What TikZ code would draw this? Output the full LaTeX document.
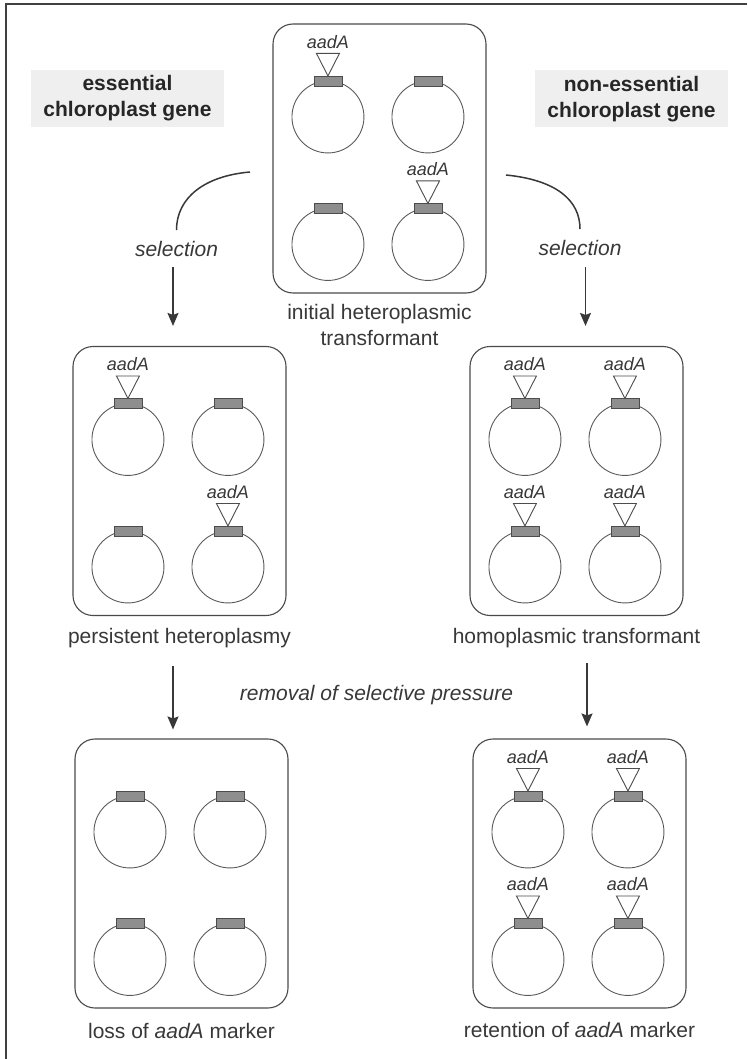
\documentclass[tikz,border=0pt]{standalone}
\usepackage{fontspec}
\setmainfont{Liberation Sans}
\usetikzlibrary{arrows.meta}
\definecolor{ink}{HTML}{383838}
\definecolor{linec}{HTML}{4A4A4A}
\definecolor{circc}{HTML}{5A5A5A}
\definecolor{genefill}{HTML}{8E8E8E}
\definecolor{hdrbg}{HTML}{EFEFEF}
\tikzset{
  box/.style={draw=linec, line width=1.1pt, rounded corners=20pt, minimum width=213pt, minimum height=269pt, inner sep=0pt},
  lab/.style={text=ink, font=\fontsize{21}{26}\selectfont, align=center, inner sep=0pt},
  hdr/.style={fill=hdrbg, text=black!85, font=\fontsize{21}{26}\selectfont\bfseries, align=center, minimum width=193pt, minimum height=57pt, inner sep=0pt},
  sel/.style={text=ink, font=\fontsize{21}{26}\selectfont\itshape, inner sep=11pt},
  aad/.style={text=ink, font=\fontsize{18}{20}\selectfont\itshape, inner sep=0pt},
  circ/.style={draw=circc, line width=0.9pt},
  gene/.style={draw=black!70, fill=genefill, line width=0.8pt},
  tri/.style={draw=black!70, fill=white, line width=0.9pt},
  conn/.style={draw=ink, line width=1.5pt},
  arr/.style={draw=ink, line width=1.5pt, -{Stealth[length=13pt,width=11pt,inset=2pt]}},
  frame/.style={draw=black!75, line width=2pt},
  plas/.pic={
    \draw[circ] (0,36) circle[radius=36];
    \draw[gene] (-14,-5) rectangle (14,5);
  },
  plasA/.pic={
    \draw[circ] (0,36) circle[radius=36];
    \draw[gene] (-14,-5) rectangle (14,5);
    \draw[tri] (-11.5,-27.5) -- (11.5,-27.5) -- (0,-5) -- cycle;
    \node[aad] at (0,-39) {aadA};
  }
}
\newcommand\placefour[5]{%
  \pic at ([shift={(55.5,57.5)}]#1.north west) {#2};
  \pic at ([shift={(155.5,57.5)}]#1.north west) {#3};
  \pic at ([shift={(55.5,185)}]#1.north west) {#4};
  \pic at ([shift={(155.5,185)}]#1.north west) {#5};
}
\begin{document}
\begin{tikzpicture}[x=1pt,y=-1pt]
\useasboundingbox (0,0) rectangle (747,1059);
% frame
\coordinate (f1) at (6,1059);
\coordinate (f2) at (6,4);
\coordinate (f3) at (747,4);
\draw[frame] (f1) -- (f2) -- (f3);

% headers
\node[hdr] (hL) at (127.5,98.5) {essential\\chloroplast gene};
\node[hdr] (hR) at (631.5,99) {non-essential\\chloroplast gene};

% boxes
\node[box] (T)  at (379.5,158.5) {};
\node[box] (ML) at (179.5,481) {};
\node[box] (MR) at (576.5,481) {};
\node[box] (BL) at (181.5,873.5) {};
\node[box] (BR) at (579.5,873.5) {};

% plasmids
\placefour{T}{plasA}{plas}{plas}{plasA}
\placefour{ML}{plasA}{plas}{plas}{plasA}
\placefour{MR}{plasA}{plasA}{plasA}{plasA}
\placefour{BL}{plas}{plas}{plas}{plas}
\placefour{BR}{plasA}{plasA}{plasA}{plasA}

% labels
\node[lab] (Tl)  at (379.5,325) {initial heteroplasmic\\transformant};
\node[lab] (MLl) at (179.5,638) {persistent heteroplasmy};
\node[lab] (MRl) at (576.5,638) {homoplasmic transformant};
\node[lab] (BLl) at (181.5,1031) {loss of \textit{aadA} marker};
\node[lab] (BRl) at (579.5,1030) {retention of \textit{aadA} marker};
\node[lab, font=\fontsize{21}{26}\selectfont\itshape] (rem) at (376.5,695) {removal of selective pressure};

% selection arrows
\node[sel] (selL) at (176.5,249) {selection};
\node[sel] (selR) at (580,248) {selection};
\coordinate (cL) at (250,172);
\coordinate (cR) at (506,175);
\draw[conn] (cL) .. controls (204,176) and (176.5,198) .. (selL.north);
\draw[conn] (cR) .. controls (556,180) and (580,200) .. (selR.north);
\coordinate (aL1) at (173,267);
\coordinate (aR1) at (585.5,267);
\draw[arr, shorten >=20pt] (aL1) -- (aL1 |- ML.north);
\draw[arr, shorten >=20pt] (aR1) -- (aR1 |- MR.north);

% removal arrows
\coordinate (aL2) at (173,666);
\coordinate (aR2) at (587,663);
\draw[arr, shorten >=9pt] (aL2) -- (aL2 |- BL.north);
\draw[arr, shorten >=12pt] (aR2) -- (aR2 |- BR.north);
\end{tikzpicture}
\end{document}
